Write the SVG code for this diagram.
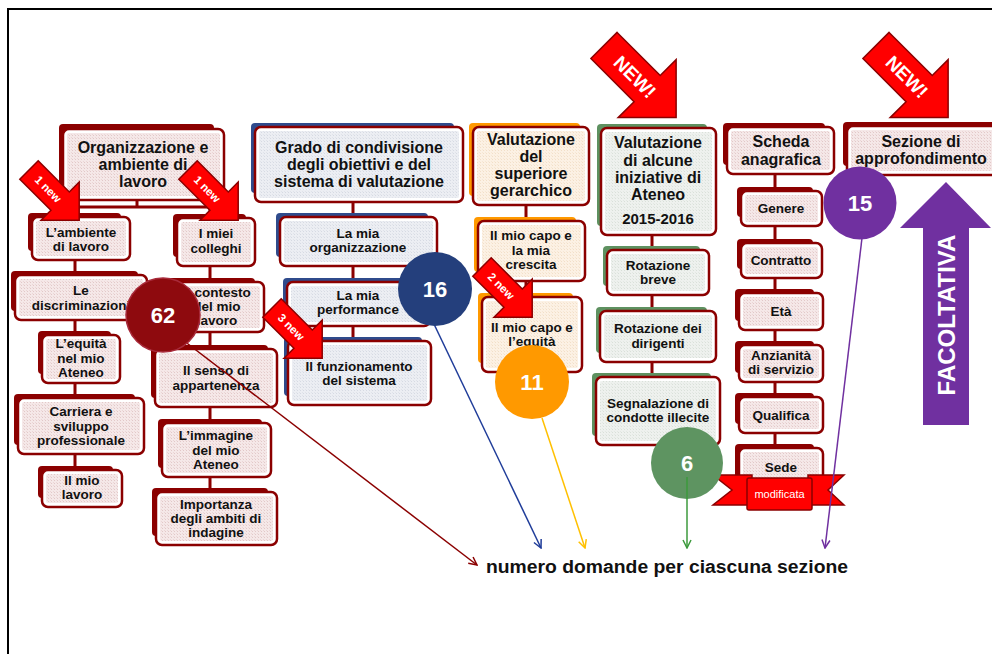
<svg xmlns="http://www.w3.org/2000/svg" width="992" height="654" viewBox="0 0 992 654">
<defs>
<pattern id="pr" width="3" height="3" patternUnits="userSpaceOnUse"><rect width="3" height="3" fill="#F5E8E8"/><rect width="1" height="1" fill="#E2C8C8"/><rect x="2" y="2" width="1" height="1" fill="#EBD6D6"/></pattern>
<pattern id="pb" width="3" height="3" patternUnits="userSpaceOnUse"><rect width="3" height="3" fill="#ECEEF3"/><rect width="1" height="1" fill="#D6DAE3"/><rect x="2" y="2" width="1" height="1" fill="#E0E3EA"/></pattern>
<pattern id="po" width="3" height="3" patternUnits="userSpaceOnUse"><rect width="3" height="3" fill="#FCF1E4"/><rect width="1" height="1" fill="#F2DFC8"/><rect x="2" y="2" width="1" height="1" fill="#F6E7D4"/></pattern>
<pattern id="pg" width="3" height="3" patternUnits="userSpaceOnUse"><rect width="3" height="3" fill="#EEF1EE"/><rect width="1" height="1" fill="#D9E0D9"/><rect x="2" y="2" width="1" height="1" fill="#E3E8E3"/></pattern>
<marker id="mr" viewBox="0 0 10 10" refX="9" refY="5" markerWidth="10" markerHeight="10" markerUnits="userSpaceOnUse" orient="auto"><path d="M1,1 L9,5 L1,9" fill="none" stroke="#8B0000" stroke-width="1.5"/></marker>
<marker id="mb" viewBox="0 0 10 10" refX="9" refY="5" markerWidth="10" markerHeight="10" markerUnits="userSpaceOnUse" orient="auto"><path d="M1,1 L9,5 L1,9" fill="none" stroke="#1F3C99" stroke-width="1.5"/></marker>
<marker id="mo" viewBox="0 0 10 10" refX="9" refY="5" markerWidth="10" markerHeight="10" markerUnits="userSpaceOnUse" orient="auto"><path d="M1,1 L9,5 L1,9" fill="none" stroke="#FFC000" stroke-width="1.5"/></marker>
<marker id="mg" viewBox="0 0 10 10" refX="9" refY="5" markerWidth="10" markerHeight="10" markerUnits="userSpaceOnUse" orient="auto"><path d="M1,1 L9,5 L1,9" fill="none" stroke="#3C9A3C" stroke-width="1.5"/></marker>
<marker id="mp" viewBox="0 0 10 10" refX="9" refY="5" markerWidth="10" markerHeight="10" markerUnits="userSpaceOnUse" orient="auto"><path d="M1,1 L9,5 L1,9" fill="none" stroke="#7030A0" stroke-width="1.5"/></marker>
<path id="bigArrow" d="M0,-18.5 L61,-18.5 L61,-41 L102,0 L61,41 L61,18.5 L0,18.5 Z"/>
<path id="smArrow" d="M0,-13 L44,-13 L44,-27 L71,0 L44,27 L44,13 L0,13 Z"/>
</defs>
<style>
text{font-family:"Liberation Sans",Arial,sans-serif;font-weight:bold}
.t{fill:#111;text-anchor:middle}
.h{font-size:16px}
.c{font-size:13.5px}
.sr{fill:#8B0000}
.sb{fill:#2F4B8C}
.so{fill:#FF9900}
.sg{fill:#5E9160}
.fr{fill:#fff;stroke:#8B0000;stroke-width:2.5}
.ir{fill:url(#pr)}
.ib{fill:url(#pb)}
.io{fill:url(#po)}
.ig{fill:url(#pg)}
.cn{stroke:#8B0000;stroke-width:3;fill:none}
.ra{fill:#FF0000;stroke:#8B0000;stroke-width:1.5}
.wt{fill:#fff;text-anchor:middle}
.sm{font-size:11.5px}
.ln{fill:none;stroke-width:1.5}
</style>
<rect x="8" y="9" width="1000" height="660" fill="none" stroke="#000" stroke-width="2"/>

<g id="connectors">
<path class="cn" d="M137,200 V207 M75,207 H210 M75,207 V214 M210,207 V215"/>
<path class="cn" d="M75,260 V272 M75,320 V332 M75,383 V395 M75,454 V467"/>
<path class="cn" d="M210,266 V279 M210,332 V346 M210,407 V420 M210,477 V489"/>
<path class="cn" d="M353,202 V214 M353,266 V279 M353,326 V338"/>
<path class="cn" d="M526,205 V218 M526,281 V294"/>
<path class="cn" d="M652,235 V247 M652,295 V308 M652,362 V374"/>
<path class="cn" d="M775,174 V188 M775,226 V240 M775,278 V290 M775,330 V342 M775,382 V394 M775,433 V445"/>
</g>

<g id="n-organizzazione"><rect class="sr" x="59" y="124" width="155" height="70" rx="4"/><rect class="fr" x="63" y="129" width="161" height="71" rx="6"/><rect class="ir" x="67" y="133" width="153" height="63" rx="2"/>
<text class="t h" x="143" y="153">Organizzazione e</text><text class="t h" x="143" y="170">ambiente di</text><text class="t h" x="143" y="187">lavoro</text></g>
<g id="n-ambiente"><rect class="sr" x="28" y="213" width="93" height="38" rx="4"/><rect class="fr" x="32" y="217" width="98" height="43" rx="6"/><rect class="ir" x="36" y="221" width="90" height="35" rx="2"/>
<text class="t c" x="81" y="237">L’ambiente</text><text class="t c" x="81" y="251">di lavoro</text></g>
<g id="n-discriminazioni"><rect class="sr" x="11" y="271" width="127" height="40" rx="4"/><rect class="fr" x="15" y="275" width="132" height="45" rx="6"/><rect class="ir" x="19" y="279" width="124" height="37" rx="2"/>
<text class="t c" x="81" y="295">Le</text><text class="t c" x="81" y="310">discriminazioni</text></g>
<g id="n-equita"><rect class="sr" x="38" y="331" width="73" height="43" rx="4"/><rect class="fr" x="42" y="335" width="78" height="48" rx="6"/><rect class="ir" x="46" y="339" width="70" height="40" rx="2"/>
<text class="t c" x="81" y="348">L’equità</text><text class="t c" x="81" y="363">nel mio</text><text class="t c" x="81" y="377">Ateneo</text></g>
<g id="n-carriera"><rect class="sr" x="14" y="394" width="121" height="51" rx="4"/><rect class="fr" x="18" y="398" width="126" height="56" rx="6"/><rect class="ir" x="22" y="402" width="118" height="48" rx="2"/>
<text class="t c" x="81" y="416">Carriera e</text><text class="t c" x="81" y="431">sviluppo</text><text class="t c" x="81" y="445">professionale</text></g>
<g id="n-miolavoro"><rect class="sr" x="38" y="466" width="75" height="32" rx="4"/><rect class="fr" x="42" y="470" width="80" height="37" rx="6"/><rect class="ir" x="46" y="474" width="72" height="29" rx="2"/>
<text class="t c" x="82" y="485">Il mio</text><text class="t c" x="82" y="499">lavoro</text></g>
<g id="n-colleghi"><rect class="sr" x="173" y="214" width="73" height="43" rx="4"/><rect class="fr" x="177" y="218" width="78" height="48" rx="6"/><rect class="ir" x="181" y="222" width="70" height="40" rx="2"/>
<text class="t c" x="216" y="238">I miei</text><text class="t c" x="216" y="253">colleghi</text></g>
<g id="n-contesto"><rect class="sr" x="166" y="278" width="89" height="45" rx="4"/><rect class="fr" x="170" y="282" width="94" height="50" rx="6"/><rect class="ir" x="174" y="286" width="86" height="42" rx="2"/>
<text class="t c" x="217" y="297">Il contesto</text><text class="t c" x="217" y="311">del mio</text><text class="t c" x="217" y="325">lavoro</text></g>
<g id="n-senso"><rect class="sr" x="151" y="345" width="117" height="53" rx="4"/><rect class="fr" x="155" y="349" width="122" height="58" rx="6"/><rect class="ir" x="159" y="353" width="114" height="50" rx="2"/>
<text class="t c" x="216" y="375">Il senso di</text><text class="t c" x="216" y="390">appartenenza</text></g>
<g id="n-immagine"><rect class="sr" x="158" y="419" width="104" height="49" rx="4"/><rect class="fr" x="162" y="423" width="109" height="54" rx="6"/><rect class="ir" x="166" y="427" width="101" height="46" rx="2"/>
<text class="t c" x="216" y="440">L’immagine</text><text class="t c" x="216" y="455">del mio</text><text class="t c" x="216" y="469">Ateneo</text></g>
<g id="n-importanza"><rect class="sr" x="152" y="488" width="116" height="48" rx="4"/><rect class="fr" x="156" y="492" width="121" height="53" rx="6"/><rect class="ir" x="160" y="496" width="113" height="45" rx="2"/>
<text class="t c" x="216" y="509">Importanza</text><text class="t c" x="216" y="523">degli ambiti di</text><text class="t c" x="216" y="537">indagine</text></g>

<g id="n-grado"><rect class="sb" x="251" y="123" width="203" height="70" rx="4"/><rect class="fr" x="255" y="127" width="208" height="75" rx="6"/><rect class="ib" x="259" y="131" width="200" height="67" rx="2"/>
<text class="t h" x="359" y="153">Grado di condivisione</text><text class="t h" x="359" y="170">degli obiettivi e del</text><text class="t h" x="359" y="187">sistema di valutazione</text></g>
<g id="n-organizzazione2"><rect class="sb" x="276" y="213" width="152" height="44" rx="4"/><rect class="fr" x="280" y="217" width="157" height="49" rx="6"/><rect class="ib" x="284" y="221" width="149" height="41" rx="2"/>
<text class="t c" x="358" y="238">La mia</text><text class="t c" x="358" y="252">organizzazione</text></g>
<g id="n-performance"><rect class="sb" x="283" y="278" width="138" height="39" rx="4"/><rect class="fr" x="287" y="282" width="143" height="44" rx="6"/><rect class="ib" x="291" y="286" width="135" height="36" rx="2"/>
<text class="t c" x="358" y="300">La mia</text><text class="t c" x="358" y="314">performance</text></g>
<g id="n-funzionamento"><rect class="sb" x="284" y="337" width="138" height="59" rx="4"/><rect class="fr" x="288" y="341" width="143" height="64" rx="6"/><rect class="ib" x="292" y="345" width="135" height="56" rx="2"/>
<text class="t c" x="359" y="371">Il funzionamento</text><text class="t c" x="359" y="385">del sistema</text></g>

<g id="n-superiore"><rect class="so" x="469" y="123" width="111" height="73" rx="4"/><rect class="fr" x="473" y="127" width="116" height="78" rx="6"/><rect class="io" x="477" y="131" width="108" height="70" rx="2"/>
<text class="t h" x="531" y="145">Valutazione</text><text class="t h" x="531" y="162">del</text><text class="t h" x="531" y="179">superiore</text><text class="t h" x="531" y="196">gerarchico</text></g>
<g id="n-crescita"><rect class="so" x="474" y="217" width="102" height="55" rx="4"/><rect class="fr" x="478" y="221" width="107" height="60" rx="6"/><rect class="io" x="482" y="225" width="99" height="52" rx="2"/>
<text class="t c" x="531" y="240">Il mio capo e</text><text class="t c" x="531" y="255">la mia</text><text class="t c" x="531" y="269">crescita</text></g>
<g id="n-capoequita"><rect class="so" x="478" y="293" width="95" height="70" rx="4"/><rect class="fr" x="482" y="297" width="100" height="75" rx="6"/><rect class="io" x="486" y="301" width="92" height="67" rx="2"/>
<text class="t c" x="532" y="332">Il mio capo e</text><text class="t c" x="532" y="346">l’equità</text></g>

<g id="n-iniziative"><rect class="sg" x="597" y="124" width="110" height="102" rx="4"/><rect class="fr" x="601" y="128" width="115" height="107" rx="6"/><rect class="ig" x="605" y="132" width="107" height="99" rx="2"/>
<text class="t h" x="658" y="148">Valutazione</text><text class="t h" x="658" y="166">di alcune</text><text class="t h" x="658" y="183">iniziative di</text><text class="t h" x="658" y="200">Ateneo</text><text class="t" style="font-size:15px" x="658" y="224">2015-2016</text></g>
<g id="n-rotbreve"><rect class="sg" x="603" y="246" width="97" height="40" rx="4"/><rect class="fr" x="607" y="250" width="102" height="45" rx="6"/><rect class="ig" x="611" y="254" width="94" height="37" rx="2"/>
<text class="t c" x="658" y="270">Rotazione</text><text class="t c" x="658" y="284">breve</text></g>
<g id="n-rotdirigenti"><rect class="sg" x="596" y="307" width="111" height="46" rx="4"/><rect class="fr" x="600" y="311" width="116" height="51" rx="6"/><rect class="ig" x="604" y="315" width="108" height="43" rx="2"/>
<text class="t c" x="658" y="333">Rotazione dei</text><text class="t c" x="658" y="348">dirigenti</text></g>
<g id="n-segnalazione"><rect class="sg" x="592" y="373" width="119" height="63" rx="4"/><rect class="fr" x="596" y="377" width="124" height="68" rx="6"/><rect class="ig" x="600" y="381" width="116" height="60" rx="2"/>
<text class="t c" x="658" y="408">Segnalazione di</text><text class="t c" x="658" y="422">condotte illecite</text></g>

<g id="n-scheda"><rect class="sr" x="723" y="123" width="102" height="42" rx="4"/><rect class="fr" x="727" y="127" width="107" height="47" rx="6"/><rect class="ir" x="731" y="131" width="99" height="39" rx="2"/>
<text class="t h" x="781" y="147">Scheda</text><text class="t h" x="781" y="165">anagrafica</text></g>
<g id="n-genere"><rect class="sr" x="737" y="187" width="76" height="30" rx="4"/><rect class="fr" x="741" y="191" width="81" height="35" rx="6"/><rect class="ir" x="745" y="195" width="73" height="27" rx="2"/>
<text class="t c" x="781" y="213">Genere</text></g>
<g id="n-contratto"><rect class="sr" x="737" y="239" width="76" height="30" rx="4"/><rect class="fr" x="741" y="243" width="81" height="35" rx="6"/><rect class="ir" x="745" y="247" width="73" height="27" rx="2"/>
<text class="t c" x="781" y="265">Contratto</text></g>
<g id="n-eta"><rect class="sr" x="735" y="289" width="79" height="32" rx="4"/><rect class="fr" x="739" y="293" width="84" height="37" rx="6"/><rect class="ir" x="743" y="297" width="76" height="29" rx="2"/>
<text class="t c" x="781" y="316">Età</text></g>
<g id="n-anzianita"><rect class="sr" x="735" y="341" width="79" height="32" rx="4"/><rect class="fr" x="739" y="345" width="84" height="37" rx="6"/><rect class="ir" x="743" y="349" width="76" height="29" rx="2"/>
<text class="t c" x="781" y="360">Anzianità</text><text class="t c" x="781" y="374">di servizio</text></g>
<g id="n-qualifica"><rect class="sr" x="735" y="393" width="79" height="31" rx="4"/><rect class="fr" x="739" y="397" width="84" height="36" rx="6"/><rect class="ir" x="743" y="401" width="76" height="28" rx="2"/>
<text class="t c" x="781" y="420">Qualifica</text></g>
<g id="n-sede"><rect class="sr" x="735" y="444" width="79" height="35" rx="4"/><rect class="fr" x="739" y="448" width="84" height="40" rx="6"/><rect class="ir" x="743" y="452" width="76" height="32" rx="2"/>
<text class="t c" x="781" y="472">Sede</text></g>

<g id="n-sezione"><rect class="sr" x="843" y="122" width="160" height="44" rx="4"/><rect class="fr" x="847" y="126" width="165" height="49" rx="6"/><rect class="ir" x="851" y="130" width="157" height="41" rx="2"/>
<text class="t h" x="921" y="147">Sezione di</text><text class="t h" x="921" y="164">approfondimento</text></g>

<g id="ribbon-modificata">
<polygon class="ra" points="713,475 752,475 752,505 713,505 732,490"/>
<polygon class="ra" points="808,475 844,475 828,490 844,505 808,505"/>
<rect class="ra" x="747" y="478" width="65" height="32" rx="2"/>
<text class="wt" style="font-size:11px;font-weight:normal" x="779.5" y="498">modificata</text>
</g>

<g id="facoltativa">
<polygon fill="#7030A0" points="946,182 991,228 969,228 969,425 923,425 923,228 900,228"/>
<text class="wt" style="font-size:24px" transform="translate(955,315) rotate(-90)" x="0" y="0">FACOLTATIVA</text>
</g>

<g id="count-lines">
<line class="ln" stroke="#8B0000" x1="175" y1="334" x2="477" y2="565" marker-end="url(#mr)"/>
<line class="ln" stroke="#1F3C99" x1="433" y1="322" x2="541" y2="548" marker-end="url(#mb)"/>
<line class="ln" stroke="#FFC000" x1="542" y1="418" x2="585" y2="548" marker-end="url(#mo)"/>
<line class="ln" stroke="#7030A0" x1="862" y1="238" x2="825" y2="548" marker-end="url(#mp)"/>
</g>

<g id="c62"><circle cx="163" cy="315" r="37" fill="#8E0A0E" stroke="#A82A3A" stroke-width="1.5"/><text class="wt" style="font-size:22px" x="163" y="323">62</text></g>
<g id="c16"><circle cx="435" cy="289" r="37" fill="#243F7C"/><text class="wt" style="font-size:22px" x="435" y="297">16</text></g>
<g id="c11"><circle cx="532" cy="382" r="37" fill="#FF9900"/><text class="wt" style="font-size:22px" x="532" y="390">11</text></g>
<g id="c6"><circle cx="687" cy="463" r="36" fill="#5E9461"/><text class="wt" style="font-size:22px" x="687" y="471">6</text></g>
<g id="c15"><circle cx="860" cy="203" r="36.5" fill="#7030A0"/><text class="wt" style="font-size:22px" x="860" y="211">15</text></g>
<line class="ln" stroke="#3C9A3C" x1="687" y1="477" x2="687" y2="548" marker-end="url(#mg)"/>

<g id="new-arrows">
<g transform="translate(604,45.5) rotate(45)"><use href="#bigArrow" class="ra"/><text class="wt" style="font-size:19px" x="44" y="7">NEW!</text></g>
<g transform="translate(876,45.5) rotate(45)"><use href="#bigArrow" class="ra"/><text class="wt" style="font-size:19px" x="44" y="7">NEW!</text></g>
<g transform="translate(29,170) rotate(45)"><use href="#smArrow" class="ra"/><text class="wt sm" x="27" y="4">1 new</text></g>
<g transform="translate(188,170) rotate(45)"><use href="#smArrow" class="ra"/><text class="wt sm" x="27" y="4">1 new</text></g>
<g transform="translate(272,308) rotate(45)"><use href="#smArrow" class="ra"/><text class="wt sm" x="27" y="4">3 new</text></g>
<g transform="translate(482,267) rotate(45)"><use href="#smArrow" class="ra"/><text class="wt sm" x="27" y="4">2 new</text></g>
</g>

<text x="486" y="573" style="font-size:17.5px;fill:#111" textLength="362" lengthAdjust="spacingAndGlyphs">numero domande per ciascuna sezione</text>
</svg>
